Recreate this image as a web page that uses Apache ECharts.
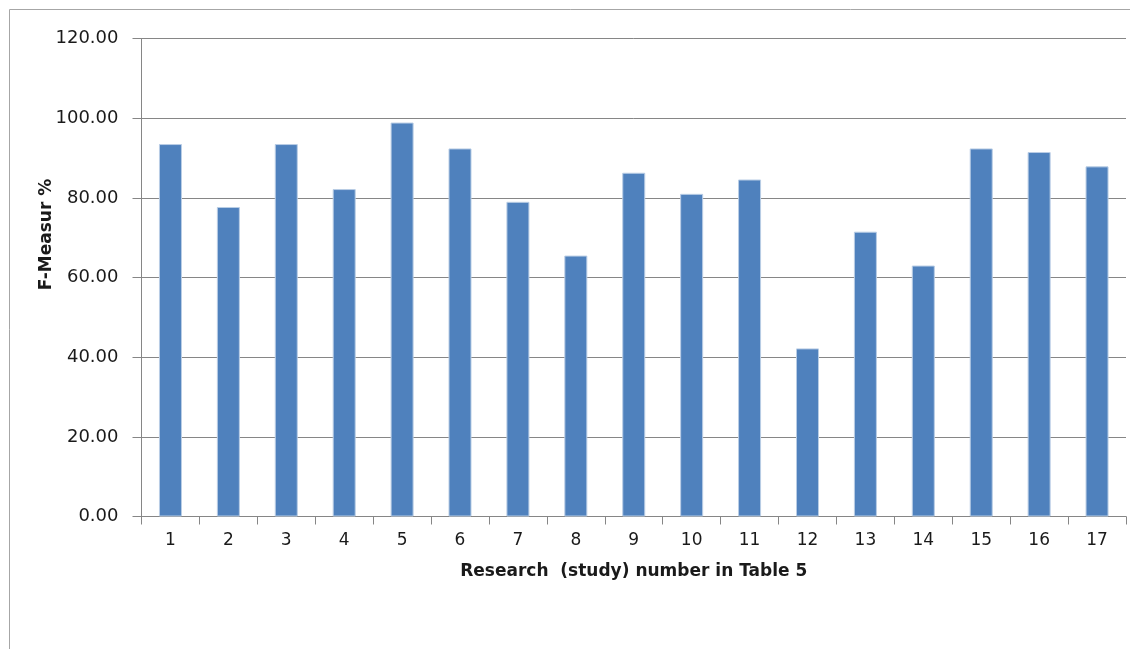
<!DOCTYPE html>
<html>
<head>
<meta charset="utf-8">
<style>
  html, body { margin: 0; padding: 0; background: #fff; }
  #chart { width: 1130px; height: 649px; }
</style>
<script src="https://cdn.jsdelivr.net/npm/echarts@6/dist/echarts.min.js"></script>
</head>
<body>
<div id="chart"></div>
<script>
// Study numbers along the x axis
const studies = ['1', '2', '3', '4', '5', '6', '7', '8', '9', '10', '11', '12', '13', '14', '15', '16', '17'];
// F-measure (%) reported by each study
const fMeasure = [93.5, 77.7, 93.5, 82.2, 98.9, 92.4, 79.0, 65.5, 86.3, 81.0, 84.6, 42.2, 71.5, 63.0, 92.4, 91.5, 87.9];
// Value axis range and step
const yMin = 0;
const yMax = 120;
const yStep = 20;

const chart = echarts.init(document.getElementById('chart'), null, { renderer: 'canvas' });

const labelFont = 'DejaVu Sans';

chart.setOption({
  animation: false,
  backgroundColor: '#ffffff',
  graphic: [{
    type: 'rect',
    silent: true,
    shape: { x: 9.5, y: 9.5, width: 1300, height: 1000 },
    style: { fill: 'none', stroke: '#a6a6a6', lineWidth: 1 }
  }],
  grid: { left: 141.5, right: 4, top: 38.5, bottom: 132.5 },
  xAxis: {
    type: 'category',
    data: studies,
    name: 'Research  (study) number in Table 5',
    nameLocation: 'middle',
    nameGap: 47,
    nameMoveOverlap: false,
    nameTextStyle: { fontFamily: labelFont, fontWeight: 'bold', fontSize: 17, color: '#1a1a1a' },
    axisLine: { lineStyle: { color: '#868686', width: 1 } },
    axisTick: { show: true, length: 8, lineStyle: { color: '#868686' } },
    axisLabel: { fontFamily: labelFont, fontSize: 17, color: '#1a1a1a', margin: 16 },
    splitLine: { show: false }
  },
  yAxis: {
    type: 'value',
    min: yMin,
    max: yMax,
    interval: yStep,
    name: 'F-Measur %',
    nameLocation: 'middle',
    nameGap: 86,
    nameRotate: 90,
    nameMoveOverlap: false,
    nameTextStyle: { fontFamily: labelFont, fontWeight: 'bold', fontSize: 17, color: '#1a1a1a', padding: [0, 0, 0, 86] },
    axisLine: { show: true, lineStyle: { color: '#868686', width: 1 } },
    axisTick: { show: true, length: 9, lineStyle: { color: '#868686' } },
    axisLabel: {
      fontFamily: labelFont, fontSize: 18, color: '#1a1a1a', margin: 23,
      formatter: v => v.toFixed(2)
    },
    splitLine: { show: true, lineStyle: { color: '#868686', width: 1 } }
  },
  series: [{
    type: 'bar',
    data: fMeasure,
    barWidth: 23,
    itemStyle: { color: '#4f81bd', borderColor: '#b9cde5', borderWidth: 1 }
  }]
});
</script>
</body>
</html>
